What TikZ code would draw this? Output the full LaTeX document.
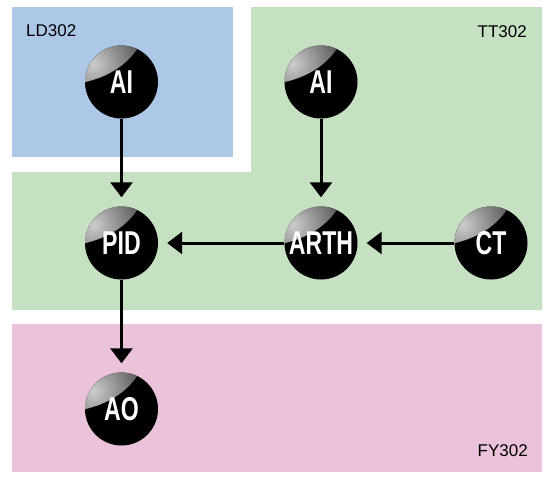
\documentclass[tikz,border=0pt]{standalone}
\usepackage{fontspec}
\setmainfont{Liberation Sans}
\usetikzlibrary{arrows.meta}
\definecolor{zoneblue}{RGB}{173,199,230}
\definecolor{zonegreen}{RGB}{197,225,194}
\definecolor{zonepink}{RGB}{234,195,219}
\tikzset{
  ballnode/.style={circle, minimum size=73pt, inner sep=0pt, text=white,
    font=\fontsize{33}{33}\selectfont\bfseries},
  flow/.style={line width=3pt, -{Triangle[length=15pt,width=22pt]}, shorten >=9pt},
  zonelabel/.style={inner sep=0pt, font=\fontsize{17}{17}\selectfont}
}
\newcommand{\bl}[1]{\scalebox{0.7}[1]{#1}}
\newcommand{\glossball}[3]{%
  \begin{scope}[shift={#2}, x=1pt, y=1pt]
    \fill[black] (0,0) circle (36.5);
    \begin{scope}
      \clip (0,0) circle (36.5);
      \clip (-40,-1) .. controls (-12,5) and (8,18) .. (20,40) -- (-40,40) -- cycle;
      \shade[inner color=black!20, outer color=black] (-28,18) circle (84);
    \end{scope}
  \end{scope}
  \node[ballnode] (#1) at #2 {\bl{#3}};
}
\begin{document}
\begin{tikzpicture}[x=1pt, y=-1pt]
  \useasboundingbox (0,0) rectangle (553,479);
  \fill[white] (0,0) rectangle (553,479);
  \fill[zoneblue] (12,7) rectangle (233,157);
  \fill[zonegreen] (251,7) -- (542,7) -- (542,310) -- (12,310) -- (12,172) -- (251,172) -- cycle;
  \fill[zonepink] (12,324) rectangle (542,472);

  \node[zonelabel, anchor=west] (ld) at (26,30.5) {LD302};
  \node[zonelabel, anchor=east] (tt) at (527,31.5) {TT302};
  \node[zonelabel, anchor=east] (fy) at (528,451) {FY302};

  \glossball{ai1}{(121.5,82)}{AI}
  \glossball{ai2}{(321,82)}{AI}
  \glossball{pid}{(121.5,243)}{PID}
  \glossball{arth}{(321,243)}{ARTH}
  \glossball{ct}{(491,243)}{CT}
  \glossball{ao}{(121.5,409)}{AO}

  \draw[flow] (ai1) -- (pid);
  \draw[flow] (ai2) -- (arth);
  \draw[flow] (arth) -- (pid);
  \draw[flow] (ct) -- (arth);
  \draw[flow] (pid) -- (ao);
\end{tikzpicture}
\end{document}
